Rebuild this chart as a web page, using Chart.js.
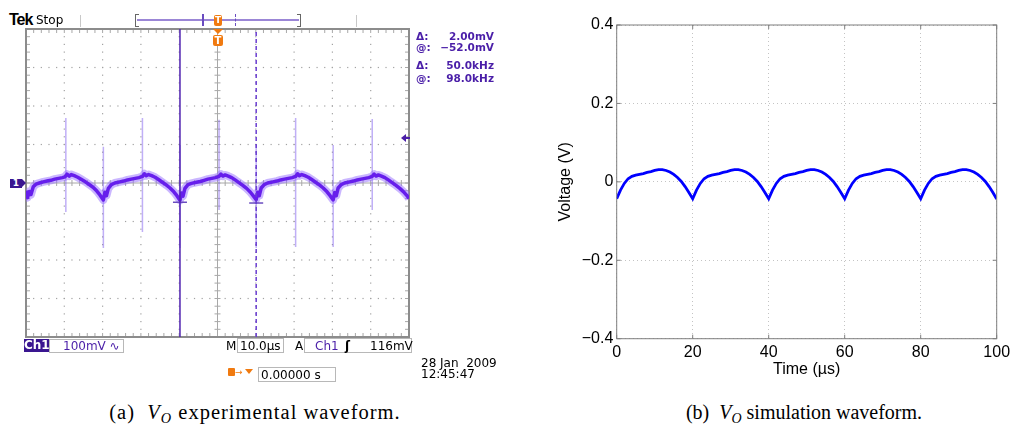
<!DOCTYPE html>
<html lang="en">
<head>
<meta charset="UTF-8">
<title>VO waveforms</title>
<script src="https://cdn.jsdelivr.net/npm/chart.js"></script>
<style>
  body { margin: 0; background: #fff; }
  .page { position: relative; width: 1024px; height: 434px; overflow: hidden; font-family: "DejaVu Sans", sans-serif; }
  .abs { position: absolute; white-space: nowrap; }
  .t12 { font-size: 12px; line-height: 14px; }
  .ro { font-size: 10.5px; line-height: 12px; font-weight: bold; color: #4a1ea8; }
  .purple { color: #4a1ea8; }
  .box { position: absolute; border: 1px solid #b8b8b8; box-sizing: border-box; }
  .orange { background: #f07a10; }
  .caption { position: absolute; top: 400px; text-align: center; font-family: "Liberation Serif", serif; font-size: 20px; line-height: 24px; }
  .caption sub { font-size: 0.7em; vertical-align: -0.25em; font-style: italic; }
  canvas { position: absolute; }
</style>
</head>
<body>
<div class="page">
  <canvas id="scope" width="385" height="310" style="left:25px;top:28px"></canvas>
  <canvas id="sim" width="474" height="390" style="left:550px;top:0px"></canvas>

  <!-- scope status bar -->
  <div class="abs" style="left:9px;top:12px;font:bold 16px/16px 'Liberation Sans';letter-spacing:-1px">Tek</div>
  <div class="abs" style="left:36px;top:14px;font-size:12px;line-height:12px">Stop</div>
  <div class="abs" style="left:80px;top:15px;width:1px;height:12px;background:#c8c8c8"></div>
  <div class="abs" style="left:356px;top:15px;width:1px;height:12px;background:#c8c8c8"></div>
  <div class="abs" style="left:137px;top:19px;width:162px;height:2px;background:#9b86d6"></div>
  <div class="abs" style="left:135px;top:14px;width:3px;height:11px;border:1px solid #666;border-right:none"></div>
  <div class="abs" style="left:297px;top:14px;width:3px;height:11px;border:1px solid #666;border-left:none"></div>
  <div class="abs" style="left:202px;top:14px;width:1.5px;height:12px;background:#6a4cc0"></div>
  <div class="abs" style="left:235px;top:14px;height:12px;border-left:1.5px dashed #6a4cc0"></div>
  <div class="abs orange" style="left:214px;top:15px;width:8px;height:11px;border-radius:2px;color:#fff;font:bold 9px/11px 'DejaVu Sans';text-align:center">T</div>
  <div class="abs" style="left:213px;top:29px;width:0;height:0;border-left:5px solid transparent;border-right:5px solid transparent;border-top:5px solid #f07a10"></div>
  <div class="abs orange" style="left:213px;top:35px;width:10px;height:11px;border-radius:2px;color:#fff;font:bold 10px/11px 'DejaVu Sans';text-align:center">T</div>

  <!-- ground and trigger level markers -->
  <div class="abs" style="left:10px;top:179px;width:12px;height:9px;background:#3a1690;color:#fff;font:bold 9px/9px 'DejaVu Sans';text-align:center">1</div>
  <div class="abs" style="left:22px;top:179px;width:0;height:0;border-top:4.5px solid transparent;border-bottom:4.5px solid transparent;border-left:4px solid #3a1690"></div>
  <div class="abs" style="left:401px;top:134px;width:0;height:0;border-top:4px solid transparent;border-bottom:4px solid transparent;border-right:5px solid #4a1ea8"></div>
  <div class="abs" style="left:405px;top:137px;width:5px;height:2px;background:#4a1ea8"></div>

  <!-- cursor readouts -->
  <div class="abs ro" style="left:416px;top:29.7px">&Delta;:</div>
  <div class="abs ro" style="left:416px;top:29.7px;width:78px;text-align:right">2.00mV</div>
  <div class="abs ro" style="left:416px;top:41px">@:</div>
  <div class="abs ro" style="left:416px;top:41px;width:78px;text-align:right">&minus;52.0mV</div>
  <div class="abs ro" style="left:416px;top:58.7px">&Delta;:</div>
  <div class="abs ro" style="left:416px;top:58.7px;width:78px;text-align:right">50.0kHz</div>
  <div class="abs ro" style="left:416px;top:72.2px">@:</div>
  <div class="abs ro" style="left:416px;top:72.2px;width:78px;text-align:right">98.0kHz</div>

  <!-- scope bottom bar -->
  <div class="abs t12" style="left:24px;top:339px;width:25px;height:13px;background:#3a1690;color:#fff;font-weight:bold;text-align:center;line-height:13px">Ch1</div>
  <div class="box" style="left:49px;top:339px;width:75px;height:14px"></div>
  <div class="abs t12 purple" style="left:63px;top:339px">100mV &#8767;</div>
  <div class="abs t12" style="left:226px;top:339px">M</div>
  <div class="box" style="left:237px;top:338px;width:47px;height:15px"></div>
  <div class="abs t12" style="left:240px;top:339px">10.0&micro;s</div>
  <div class="abs t12" style="left:295px;top:339px">A</div>
  <div class="box" style="left:304px;top:338px;width:108px;height:15px"></div>
  <div class="abs t12 purple" style="left:315px;top:339px">Ch1</div>
  <div class="abs t12" style="left:345px;top:339px;font-weight:bold">&#643;</div>
  <div class="abs t12" style="left:370px;top:339px">116mV</div>

  <div class="abs orange" style="left:228px;top:368px;width:7px;height:8px;border-radius:1px"></div>
  <div class="abs" style="left:235px;top:366px;font-size:9px;line-height:12px;color:#f07a10">&rarr;</div>
  <div class="abs" style="left:245px;top:369px;width:0;height:0;border-left:4px solid transparent;border-right:4px solid transparent;border-top:5px solid #f07a10"></div>
  <div class="box" style="left:258px;top:367px;width:78px;height:15px"></div>
  <div class="abs t12" style="left:261px;top:367.5px">0.00000 s</div>

  <div class="abs t12" style="left:421px;top:356px">28 Jan&nbsp; 2009</div>
  <div class="abs t12" style="left:421px;top:367px">12:45:47</div>

  <!-- captions -->
  <div class="caption" style="left:0px;width:510px;font-size:20.5px;letter-spacing:1px">(a)&nbsp; <i>V</i><sub>O</sub> experimental waveform.</div>
  <div class="caption" style="left:584px;width:440px">(b)&nbsp; <i>V</i><sub>O</sub> simulation waveform.</div>
</div>

<script>
  // Panel (a): oscilloscope capture, Ch1 in mV against time in µs (10 µs/div, 100 mV/div)
  const traceTime = [0, 0.4, 0.9, 1.3, 1.9, 2.6, 3.5, 4.5, 5.5, 6.5, 7.5, 8.5, 9.5, 10.2, 10.7, 11.3, 11.8, 12.6, 13.5, 14.5, 15.5, 16.5, 17.5, 18.5, 19.3,
    20.2, 20.6, 21.0, 21.5, 22.3, 23.2, 24.5, 25.5, 26.5, 27.5, 28.5, 29.5, 30.4, 30.9, 31.4, 32.0, 32.8, 33.7, 34.6, 35.6, 36.6, 37.6, 38.6, 39.4,
    40.2, 40.6, 41.0, 41.5, 42.3, 43.2, 44.5, 45.5, 46.5, 47.5, 48.5, 49.5, 50.4, 50.9, 51.4, 52.0, 52.8, 53.7, 54.6, 55.6, 56.6, 57.6, 58.6, 59.4,
    60.1, 60.5, 60.9, 61.4, 62.2, 63.1, 64.5, 65.5, 66.5, 67.5, 68.5, 69.5, 70.4, 70.9, 71.4, 72.0, 72.8, 73.7, 74.6, 75.6, 76.6, 77.6, 78.6, 79.4,
    80.2, 80.6, 81.0, 81.5, 82.3, 83.2, 84.5, 85.5, 86.5, 87.5, 88.5, 89.5, 90.4, 90.9, 91.4, 92.0, 92.8, 93.7, 94.6, 95.6, 96.6, 97.6, 98.6, 99.4, 100];
  const traceMv = [-20, -38, -22, -30, -10, -3, 0, 3, 5, 7, 10, 12, 14, 16, 23, 18, 22, 19, 15, 9, 3, -4, -11, -21, -31,
    -44, -24, -33, -14, -4, 0, 3, 5, 8, 10, 12, 14, 17, 24, 19, 22, 19, 15, 9, 2, -5, -13, -23, -33,
    -45, -26, -34, -14, -4, -1, 2, 4, 7, 10, 12, 14, 17, 23, 18, 21, 18, 14, 8, 1, -6, -14, -24, -34,
    -43, -24, -33, -13, -4, 0, 3, 5, 8, 10, 12, 14, 17, 24, 19, 22, 19, 15, 9, 2, -5, -13, -23, -33,
    -44, -25, -33, -13, -4, 0, 3, 5, 8, 10, 12, 14, 17, 23, 18, 21, 18, 14, 8, 1, -6, -14, -23, -32, -40];

  // switching spikes
  const spikeTime = [10.4, 20.2, 30.4, 40.2, 50.4, 60.1, 70.4, 80.2, 90.4];
  const spikeTop = [169, 94, 169, 99, 164, 99, 169, 99, 166];
  const spikeBottom = [-75, -169, -127, -169, -70, -169, -166, -166, -70];

  // cursors
  const cursorTime = [40.2, 60.1];
  const cursorLevelMv = [-50, -52];

  // Panel (b): simulation, voltage in V against time in µs
  const simTime = [0, 1, 2, 3, 4, 5, 6, 7, 8, 9, 10, 11, 12, 13, 14, 15, 16, 17, 18, 19,
    20, 21, 22, 23, 24, 25, 26, 27, 28, 29, 30, 31, 32, 33, 34, 35, 36, 37, 38, 39,
    40, 41, 42, 43, 44, 45, 46, 47, 48, 49, 50, 51, 52, 53, 54, 55, 56, 57, 58, 59,
    60, 61, 62, 63, 64, 65, 66, 67, 68, 69, 70, 71, 72, 73, 74, 75, 76, 77, 78, 79,
    80, 81, 82, 83, 84, 85, 86, 87, 88, 89, 90, 91, 92, 93, 94, 95, 96, 97, 98, 99, 100];
  const simVoltage = [
    -0.043, -0.021, -0.004, 0.008, 0.014, 0.017, 0.019, 0.021, 0.024, 0.026, 0.029, 0.031, 0.031, 0.029, 0.025, 0.019, 0.011, 0.001, -0.012, -0.027,
    -0.043, -0.021, -0.004, 0.008, 0.014, 0.017, 0.019, 0.021, 0.024, 0.026, 0.029, 0.031, 0.031, 0.029, 0.025, 0.019, 0.011, 0.001, -0.012, -0.027,
    -0.043, -0.021, -0.004, 0.008, 0.014, 0.017, 0.019, 0.021, 0.024, 0.026, 0.029, 0.031, 0.031, 0.029, 0.025, 0.019, 0.011, 0.001, -0.012, -0.027,
    -0.043, -0.021, -0.004, 0.008, 0.014, 0.017, 0.019, 0.021, 0.024, 0.026, 0.029, 0.031, 0.031, 0.029, 0.025, 0.019, 0.011, 0.001, -0.012, -0.027,
    -0.043, -0.021, -0.004, 0.008, 0.014, 0.017, 0.019, 0.021, 0.024, 0.026, 0.029, 0.031, 0.031, 0.029, 0.025, 0.019, 0.011, 0.001, -0.012, -0.027,
    -0.044];

  // graticule: dotted divisions, centre cross and edge ticks
  const scopeGraticule = {
    id: 'scopeGraticule',
    beforeDatasetsDraw(chart) {
      const { ctx, chartArea: a, scales: { x, y } } = chart;
      ctx.save();
      ctx.fillStyle = '#a2a2a2';
      for (let t = 10; t < 100; t += 10) {
        if (t === 50) continue;
        const px = x.getPixelForValue(t);
        for (let mv = -380; mv < 400; mv += 20) ctx.fillRect(px - 0.6, y.getPixelForValue(mv) - 0.6, 1.2, 1.2);
      }
      for (let mv = -300; mv < 400; mv += 100) {
        if (mv === 0) continue;
        const py = y.getPixelForValue(mv);
        for (let t = 2; t < 100; t += 2) ctx.fillRect(x.getPixelForValue(t) - 0.6, py - 0.6, 1.2, 1.2);
      }
      // centre cross
      ctx.strokeStyle = '#a8a8a8';
      ctx.lineWidth = 1;
      const cx = x.getPixelForValue(50), cy = y.getPixelForValue(0);
      ctx.beginPath();
      ctx.moveTo(cx, a.top); ctx.lineTo(cx, a.bottom);
      ctx.moveTo(a.left, cy); ctx.lineTo(a.right, cy);
      for (let mv = -380; mv < 400; mv += 20) {
        const py = y.getPixelForValue(mv);
        ctx.moveTo(cx - 3, py); ctx.lineTo(cx + 3, py);
      }
      for (let t = 2; t < 100; t += 2) {
        const px = x.getPixelForValue(t);
        ctx.moveTo(px, cy - 3); ctx.lineTo(px, cy + 3);
      }
      // edge ticks
      for (let t = 2; t < 100; t += 2) {
        const px = x.getPixelForValue(t);
        ctx.moveTo(px, a.top); ctx.lineTo(px, a.top + 4);
        ctx.moveTo(px, a.bottom); ctx.lineTo(px, a.bottom - 4);
      }
      for (let mv = -380; mv < 400; mv += 20) {
        const py = y.getPixelForValue(mv);
        ctx.moveTo(a.left, py); ctx.lineTo(a.left + 4, py);
        ctx.moveTo(a.right, py); ctx.lineTo(a.right - 4, py);
      }
      ctx.stroke();
      ctx.strokeStyle = '#8c8c8c';
      ctx.lineWidth = 2;
      ctx.strokeRect(a.left, a.top, a.right - a.left, a.bottom - a.top);
      ctx.restore();
    }
  };

  const tracePoints = traceTime.map((t, i) => ({ x: t, y: traceMv[i] }));
  const spikePoints = [];
  spikeTime.forEach((t, i) => {
    spikePoints.push({ x: t, y: spikeTop[i] }, { x: t, y: spikeBottom[i] }, { x: t, y: null });
  });

  new Chart(document.getElementById('scope'), {
    type: 'scatter',
    data: {
      datasets: [
        { data: [{ x: cursorTime[0], y: -400 }, { x: cursorTime[0], y: 400 }], showLine: true, borderColor: '#4f22b0', borderWidth: 1.5, pointRadius: 0, order: 0 },
        { data: [{ x: cursorTime[1], y: -400 }, { x: cursorTime[1], y: 400 }], showLine: true, borderColor: '#6a3cd0', borderWidth: 1.5, borderDash: [4, 3], pointRadius: 0, order: 0 },
        { data: cursorTime.map((t, i) => ({ x: t, y: cursorLevelMv[i] })), pointStyle: 'line', pointRadius: 7, borderColor: '#6a4cc0', borderWidth: 1.5, order: 0 },
        { data: tracePoints, showLine: true, borderColor: 'rgb(102, 30, 236)', borderWidth: 3.5, pointRadius: 0, borderJoinStyle: 'round', order: 1 },
        { data: tracePoints, showLine: true, borderColor: 'rgba(150, 110, 255, 0.5)', borderWidth: 8, pointRadius: 0, borderJoinStyle: 'round', order: 2 },
        { data: spikePoints, showLine: true, borderColor: 'rgba(130, 95, 240, 0.5)', borderWidth: 1.5, pointRadius: 0, order: 3 }
      ]
    },
    options: {
      responsive: false,
      animation: false,
      layout: { padding: 1, autoPadding: false },
      plugins: { legend: { display: false }, tooltip: { enabled: false } },
      scales: {
        x: { type: 'linear', min: 0, max: 100, display: false },
        y: { min: -400, max: 400, display: false }
      }
    },
    plugins: [scopeGraticule]
  });

  // MATLAB style box with inward ticks
  const simBox = {
    id: 'simBox',
    afterDraw(chart) {
      const { ctx, chartArea: a, scales: { x, y } } = chart;
      ctx.save();
      ctx.strokeStyle = '#7f7f7f';
      ctx.lineWidth = 1;
      ctx.beginPath();
      x.ticks.forEach(tk => {
        const px = x.getPixelForValue(tk.value);
        ctx.moveTo(px, a.bottom); ctx.lineTo(px, a.bottom - 4);
        ctx.moveTo(px, a.top); ctx.lineTo(px, a.top + 4);
      });
      y.ticks.forEach(tk => {
        const py = y.getPixelForValue(tk.value);
        ctx.moveTo(a.left, py); ctx.lineTo(a.left + 4, py);
        ctx.moveTo(a.right, py); ctx.lineTo(a.right - 4, py);
      });
      ctx.stroke();
      ctx.strokeRect(a.left, a.top, a.right - a.left, a.bottom - a.top);
      ctx.restore();
    }
  };

  const axisFont = { family: 'Liberation Sans', size: 16 };

  new Chart(document.getElementById('sim'), {
    type: 'scatter',
    data: {
      datasets: [{
        data: simTime.map((t, i) => ({ x: t, y: simVoltage[i] })),
        showLine: true,
        borderColor: '#0000ff',
        borderWidth: 2.8,
        pointRadius: 0
      }]
    },
    options: {
      responsive: false,
      animation: false,
      layout: { padding: { top: 25, right: 27.3, bottom: 0, left: 0 }, autoPadding: false },
      plugins: { legend: { display: false }, tooltip: { enabled: false } },
      scales: {
        x: {
          type: 'linear', min: 0, max: 100,
          ticks: { stepSize: 20, padding: 4, color: '#000', font: axisFont },
          grid: { color: '#c4c4c4', drawTicks: false },
          border: { display: false, dash: [1, 3] },
          title: { display: true, text: 'Time (µs)', color: '#000', font: axisFont, padding: { top: 0, bottom: 11 } },
          afterFit(s) { s.height = 51.3; }
        },
        y: {
          min: -0.4, max: 0.4,
          ticks: {
            stepSize: 0.2, padding: 3.4, color: '#000', font: axisFont,
            callback: v => Math.abs(v) < 1e-9 ? '0' : v.toFixed(1).replace('-', '\u2212')
          },
          grid: { color: '#c4c4c4', drawTicks: false },
          border: { display: false, dash: [1, 3] },
          title: { display: true, text: 'Voltage (V)', color: '#000', font: axisFont, padding: { top: 6.4, bottom: 0 } },
          afterFit(s) { s.width = 66.7; }
        }
      }
    },
    plugins: [simBox]
  });
</script>
</body>
</html>
